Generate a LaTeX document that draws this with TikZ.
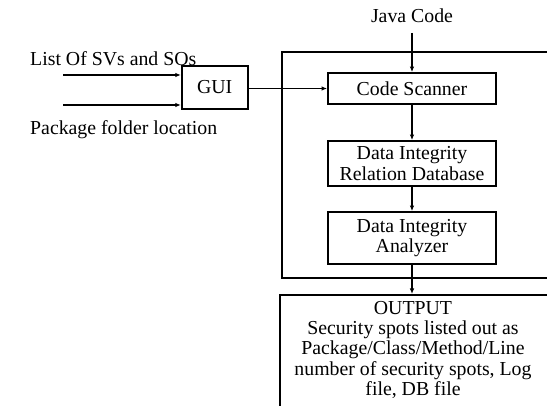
\documentclass[tikz,border=0pt]{standalone}
\usepackage{fontspec}
\setmainfont{Liberation Serif}
\usetikzlibrary{arrows.meta}
\tikzset{
  blk/.style={draw, line width=1.7pt, inner sep=0pt, align=center,
    font=\fontsize{19.8}{20.3}\selectfont},
  lbl/.style={inner sep=0pt, font=\fontsize{19.8}{20.3}\selectfont},
  flow/.style={line width=1.7pt, -{Latex[length=5.5pt,width=4.5pt]}}
}
\begin{document}
\begin{tikzpicture}[x=1pt,y=-1pt]
\useasboundingbox (0,0) rectangle (547,406);
\clip (0,0) rectangle (547,406);
\fill[white] (0,0) rectangle (547,406);

% outer frame of the scanning tool and the output box (both run past the right edge)
\node[blk, anchor=north west, minimum width=300pt, minimum height=226pt] (frame) at (281,51) {};
\node[blk, anchor=north west, minimum width=300pt, minimum height=160pt] (out) at (279,294) {};

% processing blocks
\node[blk, minimum width=66pt, minimum height=43.5pt] (gui) at (214.7,87.5) {GUI};
\node[blk, minimum width=168pt, minimum height=31pt] (cs) at (412,88.5) {Code Scanner};
\node[blk, minimum width=168pt, minimum height=45pt] (dird) at (412,163.5) {Data Integrity\\Relation Database};
\node[blk, minimum width=168pt, minimum height=52pt] (dia) at (412,238) {Data Integrity\\Analyzer};

% text labels
\node[lbl, anchor=base] (java) at (412,23) {Java Code};
\node[lbl, anchor=base west] (svs) at (30,65.5) {List Of SVs and SOs};
\node[lbl, anchor=base west] (pkg) at (30,134.5) {Package folder location};
\node[lbl, anchor=base, align=center] (outtxt) at (413,395.5)
  {OUTPUT\\Security spots listed out as\\Package/Class/Method/Line\\number of security spots, Log\\file, DB file};

% inputs
\coordinate (in1) at (63,75);
\coordinate (in2) at (63,105);
\coordinate (jc) at (412,33);

% connectors
\draw[flow] (in1) -- (in1 -| gui.west);
\draw[flow] (in2) -- (in2 -| gui.west);
\draw[flow] (jc) -- (cs.north);
\draw[flow] (gui.east |- 0,88.5) -- (cs.west);
\draw[flow] (cs.south) -- (dird.north);
\draw[flow] (dird.south) -- (dia.north);
\draw[flow] (dia.south) -- (dia.south |- out.north);
\end{tikzpicture}
\end{document}
